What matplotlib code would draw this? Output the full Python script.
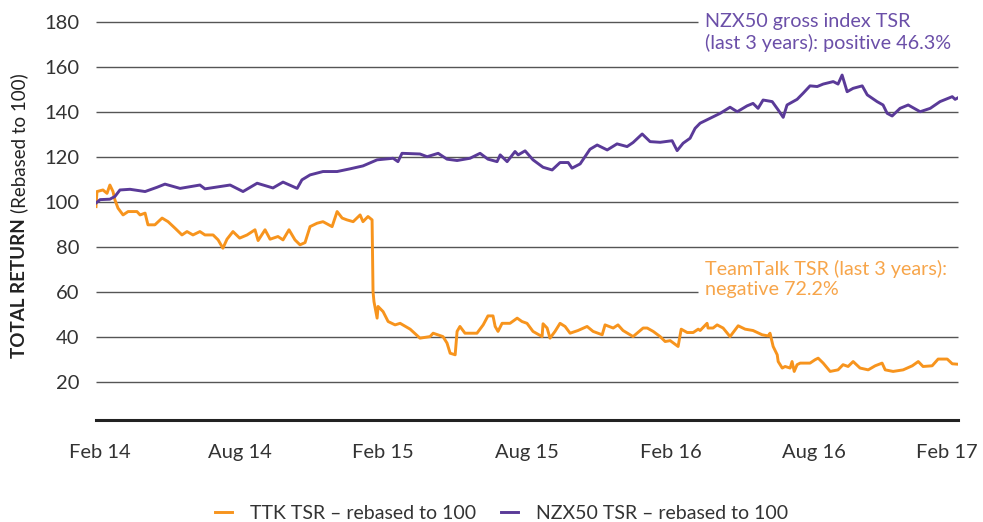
import matplotlib
matplotlib.use("Agg")
import matplotlib.pyplot as plt
from matplotlib.lines import Line2D
from matplotlib.transforms import ScaledTranslation

plt.rcParams["font.family"] = ["Lato", "DejaVu Sans"]

# x positions are months since Feb 2014
NZX_MONTHS = [0.0, 0.17, 0.58, 0.79, 1.0, 1.42, 2.05, 2.55, 2.88, 3.51, 4.34, 4.55,
              5.6, 6.14, 6.73, 7.39, 7.81, 8.4, 8.6, 8.94, 9.48, 10.07, 10.61, 11.15,
              11.74, 12.41, 12.61, 12.78, 13.53, 13.83, 14.29, 14.66, 15.08, 15.62,
              16.04, 16.37, 16.75, 16.88, 17.17, 17.5, 17.63, 17.92, 18.25, 18.67,
              19.05, 19.38, 19.72, 19.88, 20.22, 20.63, 20.93, 21.35, 21.76, 22.18,
              22.43, 22.81, 23.14, 23.56, 24.06, 24.27, 24.52, 24.81, 25.02, 25.23,
              25.65, 26.07, 26.48, 26.78, 27.19, 27.44, 27.65, 27.86, 28.24, 28.49,
              28.7, 28.86, 29.28, 29.53, 29.82, 30.12, 30.37, 30.79, 30.99, 31.16,
              31.37, 31.62, 32.0, 32.21, 32.62, 32.87, 33.04, 33.25, 33.58, 33.92,
              34.42, 34.84, 35.25, 35.76, 35.88, 36.0]
NZX_VALUES = [99.5, 101.0, 101.2, 102.4, 105.3, 105.6, 104.6, 106.5, 107.9, 106.0, 107.5, 105.8,
              107.5, 104.6, 108.3, 106.2, 108.8, 106.0, 109.8, 112.0, 113.5, 113.5, 114.7, 116.0,
              118.7, 119.4, 117.9, 121.6, 121.3, 120.1, 121.6, 119.0, 118.4, 119.4,
              121.6, 119.0, 117.9, 120.9, 117.9, 122.4, 120.9, 122.7, 118.7, 115.4,
              114.2, 117.5, 117.5, 115.0, 116.9, 123.4, 125.3, 123.1, 125.8, 124.6,
              126.4, 130.2, 126.8, 126.5, 127.2, 122.8, 126.1, 128.3, 132.7, 135.0,
              137.2, 139.4, 142.1, 140.1, 142.7, 143.8, 141.6, 145.3, 144.6, 140.9,
              137.6, 143.1, 145.6, 148.3, 151.6, 151.3, 152.4, 153.5, 152.4, 156.4,
              149.0, 150.5, 151.6, 147.6, 144.6, 143.1, 139.4, 138.2, 141.6, 143.1,
              140.1, 141.6, 144.6, 146.8, 145.6, 146.3]

TTK_MONTHS = [0.0, 0.04, 0.29, 0.46, 0.58, 0.71, 0.79, 0.92, 1.13, 1.34, 1.71, 1.84,
              2.05, 2.17, 2.46, 2.76, 3.01, 3.3, 3.59, 3.8, 4.05, 4.34, 4.55, 4.89,
              5.1, 5.3, 5.47, 5.72, 6.0, 6.31, 6.64, 6.77, 7.06, 7.27, 7.6, 7.81,
              8.06, 8.31, 8.52, 8.73, 8.94, 9.23, 9.48, 9.86, 10.07, 10.28, 10.48,
              10.74, 11.03, 11.15, 11.36, 11.53, 11.57, 11.61, 11.74, 11.78, 11.99,
              12.2, 12.49, 12.7, 13.12, 13.53, 13.95, 14.08, 14.49, 14.66, 14.79,
              15.0, 15.08, 15.2, 15.41, 15.62, 15.91, 16.17, 16.37, 16.58, 16.67,
              16.79, 16.96, 17.29, 17.59, 17.79, 18.0, 18.25, 18.63, 18.67, 18.84,
              18.96, 19.17, 19.38, 19.59, 19.8, 20.13, 20.51, 20.76, 21.14, 21.26,
              21.6, 21.8, 22.01, 22.43, 22.85, 23.02, 23.27, 23.56, 23.77, 23.98,
              24.31, 24.44, 24.69, 24.94, 25.15, 25.23, 25.52, 25.56, 25.77, 25.94,
              26.19, 26.48, 26.69, 26.82, 27.11, 27.44, 27.82, 28.07, 28.15, 28.28,
              28.45, 28.49, 28.66, 28.78, 28.99, 29.07, 29.16, 29.28, 29.41, 29.82,
              30.03, 30.16, 30.37, 30.66, 30.99, 31.2, 31.41, 31.62, 31.91, 32.25,
              32.54, 32.83, 32.96, 33.29, 33.71, 34.09, 34.34, 34.54, 34.92, 35.17,
              35.55, 35.76, 36.0]
TTK_VALUES = [97.9, 104.6, 105.3, 103.8, 107.5, 104.6, 100.9, 97.2, 94.2, 95.7, 95.7, 94.2,
              95.0, 89.8, 89.8, 92.8, 91.2, 88.3, 85.3, 86.8, 85.3, 86.8, 85.3, 85.3,
              83.1, 79.4, 83.4, 86.8, 83.9, 85.3, 87.6, 82.8, 87.6, 83.4, 84.6, 83.1,
              87.6, 83.1, 80.9, 81.9, 89.0, 90.5, 91.2, 89.0, 95.7, 92.8, 92.0,
              91.2, 94.2, 91.2, 93.5, 92.0, 60.0, 55.6, 48.3, 53.5, 51.2,
              46.8, 45.3, 46.0, 43.4, 39.4, 40.1, 41.6, 40.1, 37.2, 32.7,
              32.0, 42.4, 44.6, 41.6, 41.6, 41.6, 45.3, 49.3, 49.3, 44.6,
              42.4, 46.0, 46.0, 48.3, 46.8, 46.0, 42.4, 40.1, 45.8, 43.9,
              39.4, 42.4, 46.0, 44.6, 41.6, 42.8, 44.6, 42.4, 40.9, 45.3,
              43.9, 45.3, 42.8, 40.1, 43.9, 43.9, 42.4, 40.1, 37.9, 38.3,
              35.7, 43.4, 41.9, 41.9, 43.4, 42.8, 46.0, 43.9, 43.9, 45.3,
              43.9, 40.1, 43.1, 44.9, 43.4, 42.8, 40.9, 40.4, 41.6, 35.7,
              32.0, 29.0, 26.1, 26.8, 26.1, 29.0, 24.6, 27.6, 28.3, 28.3,
              29.8, 30.5, 28.3, 24.6, 25.3, 27.6, 26.8, 29.0, 26.1, 25.3,
              27.1, 28.3, 25.3, 24.6, 25.3, 27.1, 29.0, 26.8, 27.1, 30.1,
              30.1, 28.0, 27.8]

TICK_MONTHS = [0, 6, 12, 18, 24, 30, 36]
TICK_LABELS = ["Feb 14", "Aug 14", "Feb 15", "Aug 15", "Feb 16", "Aug 16", "Feb 17"]
Y_GRID = [20, 40, 60, 80, 100, 120, 140, 160, 180]

ORANGE = "#F7941D"
PURPLE = "#5A3A98"
TEXT = "#333333"

W, H = 983, 522
fig = plt.figure(figsize=(W / 100, H / 100), dpi=100)
ax = fig.add_axes([96 / W, 1 - 420 / H, 862 / W, 398 / H])
ax.set_xlim(0, 36)
ax.set_ylim(3, 180)

# gridlines; the 180 and 60 lines stop where the annotations start
for v in Y_GRID:
    xmax = 25.15 if v in (180, 60) else 36
    ax.hlines(v, 0, xmax, color="#555555", lw=1.0, zorder=1, clip_on=False)

ax.plot(TTK_MONTHS, TTK_VALUES, color=ORANGE, lw=2.1, zorder=3)
ax.plot(NZX_MONTHS, NZX_VALUES, color=PURPLE, lw=2.1, zorder=3)

for s in ["top", "left", "right"]:
    ax.spines[s].set_visible(False)
ax.spines["bottom"].set_linewidth(2.2)
ax.spines["bottom"].set_color("#222222")

ax.set_yticks(Y_GRID)
ax.set_yticklabels([str(v) for v in Y_GRID])
ax.set_xticks(TICK_MONTHS)
ax.set_xticklabels(TICK_LABELS)
ax.tick_params(axis="y", length=0, pad=12, labelsize=14.5, labelcolor=TEXT)
ax.tick_params(axis="x", length=0, pad=17, labelsize=14.5, labelcolor=TEXT)

# nudge the end labels inwards like the original
xlabels = ax.get_xticklabels()
xlabels[0].set_transform(xlabels[0].get_transform() + ScaledTranslation(4 / 100, 0, fig.dpi_scale_trans))
xlabels[-1].set_transform(xlabels[-1].get_transform() + ScaledTranslation(-11 / 100, 0, fig.dpi_scale_trans))

ax.text(25.45, 175.3, "NZX50 gross index TSR\n(last 3 years): positive 46.3%",
        color="#6B4FA8", fontsize=14.2, va="center", ha="left", linespacing=1.25,
        clip_on=False)
ax.text(25.45, 65.8, "TeamTalk TSR (last 3 years):\nnegative 72.2%",
        color="#F7A54A", fontsize=14.2, va="center", ha="left", linespacing=1.25,
        clip_on=False)

# y label: bold part followed by regular part
t1 = fig.text(25 / W, 1 - 358 / H, "TOTAL RETURN", rotation=90, rotation_mode="anchor",
              ha="left", va="baseline", fontsize=13.5, fontweight="bold", color="#222222")
fig.canvas.draw()
bb = t1.get_window_extent()
fig.text(25 / W, (bb.y1 + 5) / fig.bbox.height, "(Rebased to 100)", rotation=90,
         rotation_mode="anchor", ha="left", va="baseline", fontsize=13.5, color="#222222")

handles = [Line2D([], [], color=ORANGE, lw=2.1), Line2D([], [], color=PURPLE, lw=2.1)]
fig.legend(handles, ["TTK TSR \u2013 rebased to 100", "NZX50 TSR \u2013 rebased to 100"],
           loc="lower center", bbox_to_anchor=(0.51, -0.033), ncol=2, frameon=False,
           handlelength=0.9, handletextpad=0.9, columnspacing=1.3, fontsize=14,
           labelcolor=TEXT)

fig.savefig("out.png", dpi=100)
